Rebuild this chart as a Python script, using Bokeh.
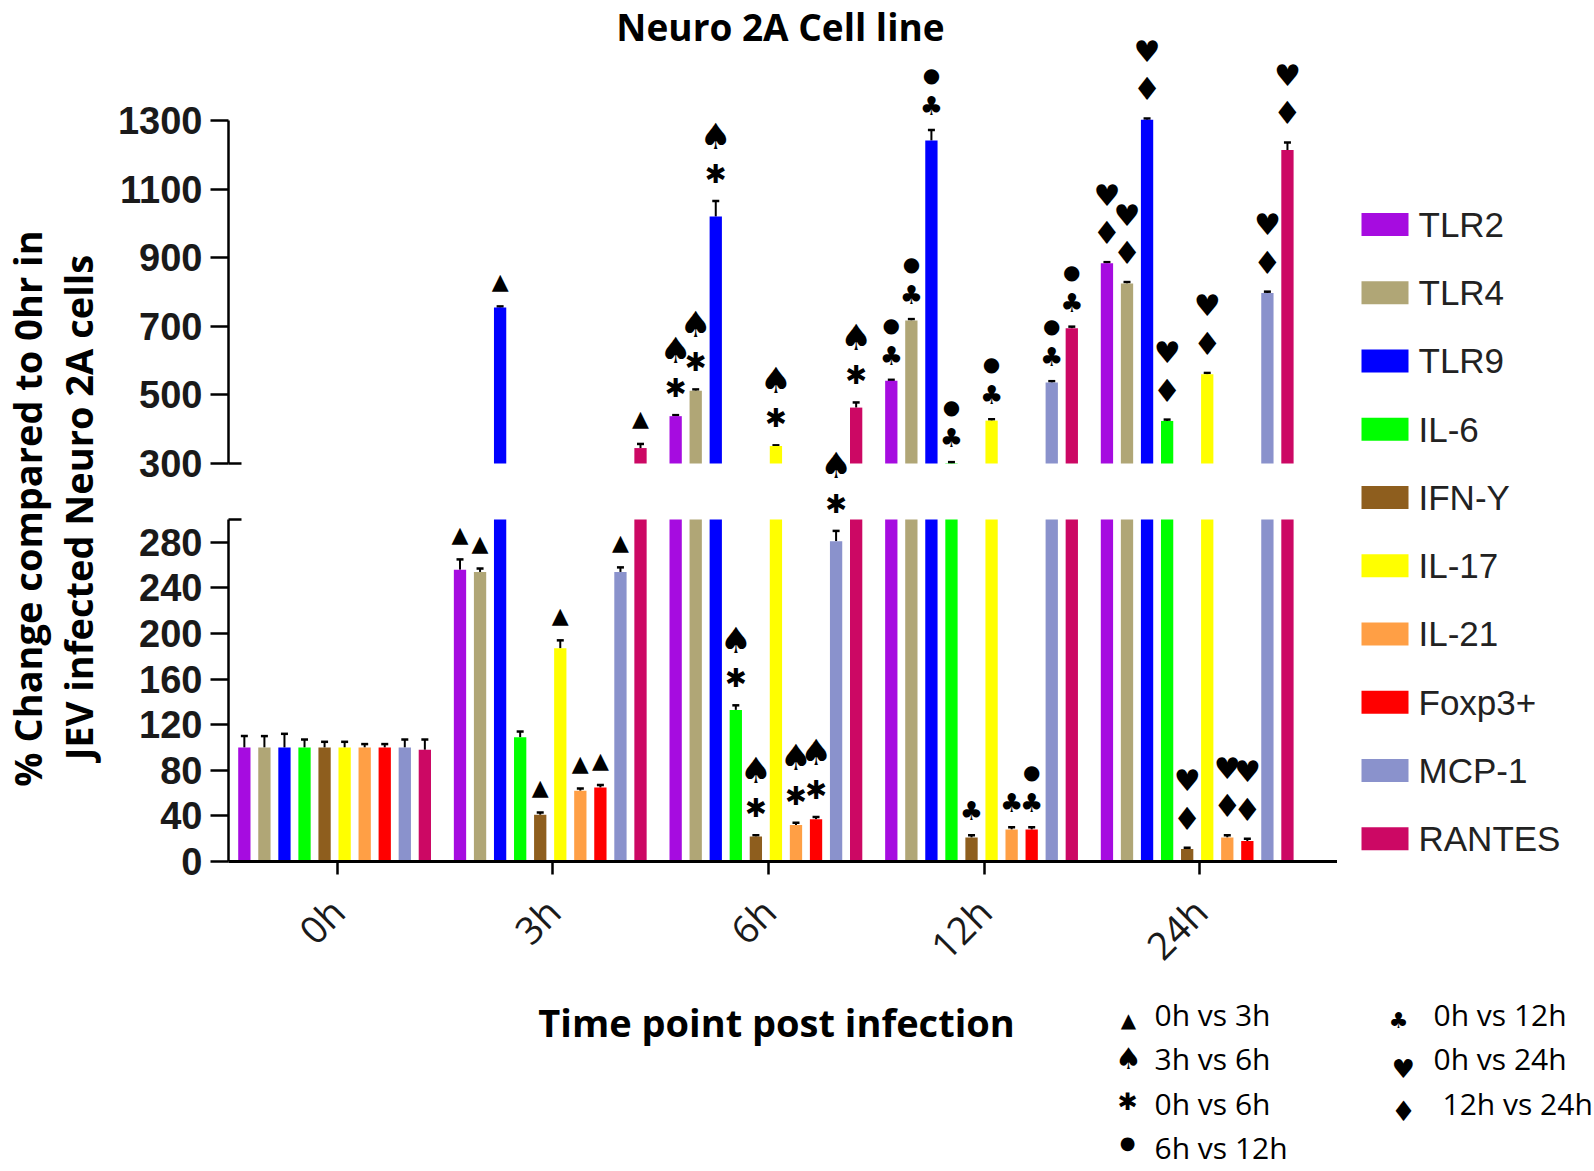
import numpy as np
from bokeh.plotting import figure
from bokeh.layouts import row, column
from bokeh.models import (Range1d, LinearAxis, FixedTicker, ColumnDataSource,
                          Whisker, TeeHead, LabelSet)
from bokeh.core.properties import value
from bokeh.embed import file_html
from bokeh.resources import INLINE

# ---------------- data ----------------
times = ["0h", "3h", "6h", "12h", "24h"]
series = ["TLR2", "TLR4", "TLR9", "IL-6", "IFN-Y", "IL-17", "IL-21", "Foxp3+", "MCP-1", "RANTES"]
colors = ["#A60CE0", "#B0A676", "#0000FF", "#00FF00", "#8E5E1E",
          "#FFFF00", "#FF9F45", "#FF0000", "#8A92CC", "#CC0864"]

tlr2 = [100, 256, 438, 541, 884]
tlr4 = [100, 254, 512, 717, 825]
tlr9 = [100, 755, 1020, 1242, 1302]
il6 = [100, 109, 133, 301, 424]
ifny = [100, 41, 22, 21, 11]
il17 = [100, 187, 351, 425, 560]
il21 = [100, 62, 32, 28, 21]
foxp3 = [100, 65, 37, 28, 18]
mcp1 = [100, 254, 281, 536, 797]
rantes = [98, 345, 463, 694, 1214]

tlr2_err = [10, 9, 3, 3, 3]
tlr4_err = [10, 3, 4, 4, 4]
tlr9_err = [12, 3, 45, 30, 4]
il6_err = [7, 5, 4, 3, 4]
ifny_err = [5, 2, 1, 2, 1]
il17_err = [5, 7, 2, 4, 4]
il21_err = [3, 2, 2, 2, 2]
foxp3_err = [3, 2, 2, 2, 2]
mcp1_err = [7, 4, 9, 4, 4]
rantes_err = [9, 12, 15, 5, 22]

means = [tlr2, tlr4, tlr9, il6, ifny, il17, il21, foxp3, mcp1, rantes]
errs = [tlr2_err, tlr4_err, tlr9_err, il6_err, ifny_err, il17_err, il21_err,
        foxp3_err, mcp1_err, rantes_err]

# significance marks per time point (one string per series, stacked bottom->top)
sig_0h = ["", "", "", "", "", "", "", "", "", ""]
sig_3h = ["▲", "▲", "▲", "", "▲", "▲", "▲", "▲", "▲", "▲"]
sig_6h = ["✱♠", "✱♠", "✱♠", "✱♠", "✱♠", "✱♠", "✱♠", "✱♠", "✱♠", "✱♠"]
sig_12h = ["♣●", "♣●", "♣●", "♣●", "♣", "♣●", "♣", "♣●", "♣●", "♣●"]
sig_24h = ["♦♥", "♦♥", "♦♥", "♦♥", "♦♥", "♦♥", "♦♥", "♦♥", "♦♥", "♦♥"]
sigs = [sig_0h, sig_3h, sig_6h, sig_12h, sig_24h]

key_symbols = ["▲", "♠", "✱", "●", "♣", "♥", "♦"]
key_labels = ["0h vs 3h", "3h vs 6h", "0h vs 6h", "6h vs 12h",
              "0h vs 12h", "0h vs 24h", "12h vs 24h"]

upper_ticks = [300, 500, 700, 900, 1100, 1300]
lower_ticks = [0, 40, 80, 120, 160, 200, 240, 280]
BREAK = 300
UP_TOP = 1300

# ---------------- geometry (page pixels) ----------------
WL = 110            # width of the y-title strip
FL, FR = 228, 1337  # plot frame left / right
WTOT = 1594
SPLIT = 488         # page y where upper and lower panels meet
FB = 861            # x axis
H1 = 994            # bottom of the plot row
HTOT = 1170
XPPU = 215.65
X0 = -0.504
LOW_PPU = 1.14
UP_PPU = 0.343
UP_BASE_PX = 463
BAR_STEP = 0.093
BAR_W = 0.057
GROUP_SHIFT = -0.012


def xd(px):
    return X0 + (px - FL) / XPPU


def page_y(v):
    if v < BREAK:
        return FB - LOW_PPU * v
    return UP_BASE_PX - UP_PPU * (v - BREAK)


x_range = Range1d(X0, xd(FR))


def make_panel(ft, fb, bottom_border):
    low = Range1d((FB - fb) / LOW_PPU, (FB - ft) / LOW_PPU)
    up = Range1d(BREAK - (fb - UP_BASE_PX) / UP_PPU, BREAK + (UP_BASE_PX - ft) / UP_PPU)
    f = figure(frame_width=FR - FL, frame_height=fb - ft, x_range=x_range, y_range=low,
               x_axis_location=None, y_axis_location=None,
               output_backend="svg", toolbar_location=None,
               min_border_left=FL - WL, min_border_right=0, min_border_top=0,
               min_border_bottom=bottom_border)
    f.extra_y_ranges = {"up": up}
    f.outline_line_color = None
    f.xgrid.visible = False
    f.ygrid.visible = False
    return f


def style_y(ax):
    ax.axis_line_width = 2.5
    ax.axis_line_color = "black"
    ax.major_tick_out = 18
    ax.major_tick_in = 0
    ax.major_tick_line_width = 2.5
    ax.minor_tick_out = 0
    ax.minor_tick_in = 13
    ax.minor_tick_line_width = 2.5
    ax.major_label_text_font = "Liberation Sans"
    ax.major_label_text_font_style = "bold"
    ax.major_label_text_font_size = "38px"
    ax.major_label_text_color = "#1a1a1a"
    ax.major_label_standoff = 8


p_up = make_panel(0, SPLIT, 0)
p_lo = make_panel(SPLIT, FB, H1 - FB)

up_axis = LinearAxis(ticker=FixedTicker(ticks=upper_ticks, minor_ticks=[BREAK]),
                     bounds=(BREAK, UP_TOP), y_range_name="up")
style_y(up_axis)
p_up.add_layout(up_axis, "left")

low_axis = LinearAxis(ticker=FixedTicker(ticks=lower_ticks, minor_ticks=[BREAK]),
                      bounds=(0, BREAK))
style_y(low_axis)
p_lo.add_layout(low_axis, "left")

x_axis = LinearAxis(ticker=FixedTicker(ticks=list(range(len(times))), minor_ticks=[]),
                    major_label_overrides={i: t for i, t in enumerate(times)})
x_axis.axis_line_width = 3
x_axis.major_tick_out = 13
x_axis.major_tick_in = 0
x_axis.major_tick_line_width = 2.5
x_axis.minor_tick_out = 0
x_axis.major_label_orientation = np.pi / 4
x_axis.major_label_text_font = "Open Sans"
x_axis.major_label_text_font_size = "38px"
x_axis.major_label_text_color = "#1a1a1a"
x_axis.major_label_standoff = 30
p_lo.add_layout(x_axis, "below")

# ---------------- bars, error bars, significance marks ----------------
t_idx = np.arange(len(times))
errs_lo = dict(x=[], v=[], hi=[])
errs_up = dict(x=[], v=[], hi=[])
SYM_OFF = [[0, 0], [25, 25], [27, 65], [24, 55], [29, 67]]
SYM_SIZE = {"▲": "22px", "♠": "36px", "✱": "26px", "●": "20px",
            "♣": "26px", "♥": "30px", "♦": "32px"}
sym_sets = {(fig, rng): dict(x=[], y=[], t=[], off=[], fs=[])
            for fig in ("up", "lo") for rng in ("default", "up")}

for j, (col, m, e) in enumerate(zip(colors, means, errs)):
    m = np.array(m, dtype=float)
    e = np.array(e, dtype=float)
    xs = t_idx + GROUP_SHIFT + (j - 4.5) * BAR_STEP
    p_lo.vbar(x=xs, top=np.minimum(m, BREAK), bottom=0, width=BAR_W,
              fill_color=col, line_color=None)
    p_up.vbar(x=xs, top=np.maximum(m, BREAK), bottom=BREAK, width=BAR_W,
              fill_color=col, line_color=None, y_range_name="up")
    for i in range(len(times)):
        cap = m[i] + e[i]
        d = errs_lo if m[i] < BREAK else errs_up
        d["x"].append(xs[i]); d["v"].append(m[i]); d["hi"].append(cap)
        for k, ch in enumerate(sigs[i][j]):
            cy = page_y(cap) - SYM_OFF[i][k]
            key = ("up" if cy < SPLIT else "lo", "default" if cap < BREAK else "up")
            s = sym_sets[key]
            s["x"].append(xs[i]); s["y"].append(cap); s["t"].append(ch)
            s["off"].append(SYM_OFF[i][k]); s["fs"].append(SYM_SIZE[ch])

for fig, d, rng in ((p_lo, errs_lo, "default"), (p_up, errs_up, "up")):
    fig.add_layout(Whisker(source=ColumnDataSource(d), base="x", lower="v", upper="hi",
                           dimension="height", line_width=2, line_color="black",
                           upper_head=TeeHead(size=7, line_width=2.5, line_color="black"),
                           lower_head=None, y_range_name=rng))

for (fname, rng), d in sym_sets.items():
    if not d["x"]:
        continue
    fig = p_up if fname == "up" else p_lo
    fig.add_layout(LabelSet(source=ColumnDataSource(d), x="x", y="y", text="t", y_offset="off",
                            text_font_size="fs", text_font=value("DejaVu Sans"),
                            text_align="center", text_baseline="middle", text_color="black",
                            y_range_name=rng))

# title
p_up.text(x=[xd(780)], y=[(FB - 26) / LOW_PPU], text=["Neuro 2A Cell line"],
          text_font=value("Open Sans"), text_font_style="bold", text_font_size="37px",
          text_align="center", text_baseline="middle", text_color="black")


# ---------------- side strips (page-pixel coordinates) ----------------
def strip(width, height, x0, y0):
    f = figure(frame_width=width, frame_height=height,
               x_range=Range1d(x0, x0 + width), y_range=Range1d(y0 + height, y0),
               x_axis_location=None, y_axis_location=None,
               output_backend="svg", toolbar_location=None, min_border=0)
    f.outline_line_color = None
    f.xgrid.visible = False
    f.ygrid.visible = False
    return f


# y title
p_yt = strip(WL, H1, 0, 0)
p_yt.text(x=[26, 77], y=[508, 507],
          text=["% Change compared to 0hr in", "JEV infected Neuro 2A cells"],
          angle=np.pi / 2, text_font=value("Open Sans"), text_font_style="bold",
          text_font_size="38px", text_align="center", text_baseline="middle",
          text_color="black")

# colour legend
p_leg = strip(WTOT - FR, H1, FR, 0)
leg_py = 224 + 68.24 * np.arange(len(series))
leg = ColumnDataSource(dict(y=leg_py, color=colors, label=series))
p_leg.rect(x=1384.5, y="y", width=47, height=23, fill_color="color", line_color=None, source=leg)
p_leg.text(x=1418, y="y", text="label", source=leg, text_font=value("Liberation Sans"),
           text_font_size="35px", text_baseline="middle", text_align="left",
           text_color="#222222")

# x title + significance key
p_bot = strip(WTOT, HTOT - H1, 0, H1)
p_bot.text(x=[776], y=[1021], text=["Time point post infection"], text_font=value("Open Sans"),
           text_font_style="bold", text_font_size="38px", text_align="center",
           text_baseline="middle", text_color="black")
key_pos = [(1128, 1154, 1014), (1128, 1154, 1058), (1127, 1154, 1103), (1127, 1154, 1147),
           (1398, 1433, 1014), (1403, 1433, 1058), (1403, 1442, 1103)]
key_dy = {"▲": 5, "♠": 0, "✱": -2, "●": -5, "♣": 6, "♥": 10, "♦": 8}
key_fs = {"▲": "20px", "♠": "30px", "✱": "24px", "●": "18px", "♣": "22px", "♥": "26px", "♦": "28px"}
p_bot.text(x=[k[0] for k in key_pos], y=[k[2] + key_dy[s] for k, s in zip(key_pos, key_symbols)],
           text=key_symbols, text_font=value("DejaVu Sans"),
           text_font_size=[key_fs[s] for s in key_symbols],
           text_align="center", text_baseline="middle", text_color="black")
p_bot.text(x=[k[1] for k in key_pos], y=[k[2] for k in key_pos], text=key_labels,
           text_font=value("Open Sans"), text_font_size="30px", text_align="left",
           text_baseline="middle", text_color="black")

layout = column(row(p_yt, column(p_up, p_lo, spacing=0), p_leg, spacing=0), p_bot, spacing=0)
open("out.html", "w").write(file_html(layout, INLINE))
